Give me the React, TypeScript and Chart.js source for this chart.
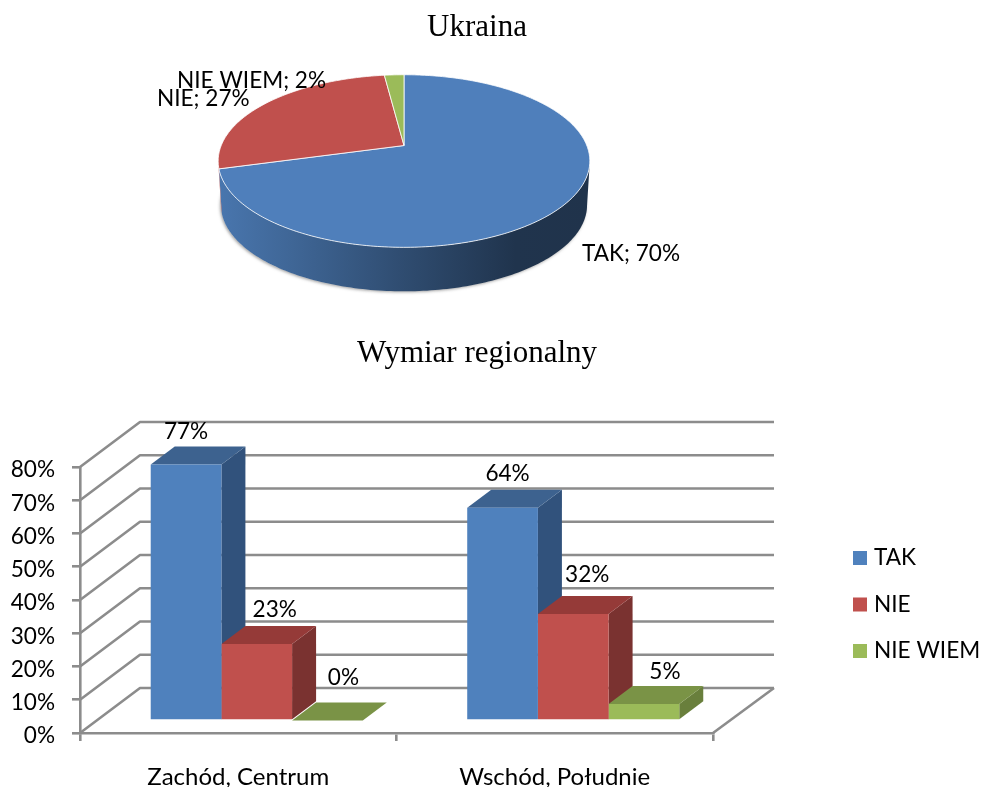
import React, { useEffect, useRef } from "react";
import { Chart, registerables } from "chart.js";

Chart.register(...registerables);

const FONT = "Lato, 'Open Sans', sans-serif";
const TEXT = "#000000";
const GRID = "#8c8c8c";

// Pie data
const pieLabels = ["TAK", "NIE", "NIE WIEM"];
const pieValues = [70, 27, 2];
const pieColors = ["#4f7fbb", "#c0504d", "#9bbb59"];

// Bar data
const barCategories = ["Zachód, Centrum", "Wschód, Południe"];
const takValues = [77, 64];
const nieValues = [23, 32];
const nieWiemValues = [0, 5];
const seriesFront = ["#4f81bd", "#c0504d", "#9bbb59"];
const seriesTop = ["#3d628f", "#953a38", "#7a9346"];
const seriesSide = ["#31527c", "#7a3230", "#697f3c"];
const yTickMax = 80;
const yTickStep = 10;

// Placement of the hand-positioned labels (left x / centre y on the pie canvas)
const pieLabelPlacement = [
  { x: 582, y: 254 },
  { x: 157, y: 99 },
  { x: 177, y: 81 },
];
// Offset of the value labels from the bar's front-top centre, per series then per category
const barLabelNudge = [
  [{ x: 0, y: -33 }, { x: 5, y: -34 }],
  [{ x: 18, y: -34 }, { x: 14, y: -39 }],
  [{ x: 16, y: -43 }, { x: 21, y: -32 }],
];

// Pie projection
const APEX = { x: 404, y: 145.5 };
const PERSP = 0.18;
const PROJ_R = 182.8;
const PROJ_B = 83.5;
const WALL = 44;
const WALL_SHRINK = 0.985;
const ELLIPSE_MID_Y = 161;

function rim(theta: number) {
  const u = Math.sin(theta);
  const v = Math.cos(theta);
  const w = 1 + PERSP * v;
  return { x: APEX.x + (PROJ_R * u) / w, y: APEX.y - (PROJ_B * v) / w };
}

function shade(hex: string, f: number) {
  const n = parseInt(hex.slice(1), 16);
  const r = Math.round(((n >> 16) & 255) * f);
  const g = Math.round(((n >> 8) & 255) * f);
  const b = Math.round((n & 255) * f);
  return `rgb(${r},${g},${b})`;
}

const pie3d = {
  id: "pie3d",
  beforeDatasetsDraw(chart: any) {
    const ctx = chart.ctx as CanvasRenderingContext2D;
    const meta = chart.getDatasetMeta(0);
    const arcs = meta.data;
    const toTheta = (a: number) => a + Math.PI / 2;
    const wallPt = (p: { x: number; y: number }) => ({
      x: APEX.x + (p.x - APEX.x) * WALL_SHRINK,
      y: p.y + WALL,
    });

    // soft outline under the wall
    ctx.save();
    ctx.beginPath();
    for (let i = 0; i <= 180; i++) {
      const p = wallPt(rim((i / 180) * Math.PI * 2));
      if (i === 0) ctx.moveTo(p.x, p.y);
      else ctx.lineTo(p.x, p.y);
    }
    ctx.closePath();
    ctx.shadowColor = "rgba(90,90,90,0.55)";
    ctx.shadowBlur = 3;
    ctx.shadowOffsetX = -1;
    ctx.shadowOffsetY = 1;
    ctx.fillStyle = "#d8d8d8";
    ctx.fill();
    ctx.restore();

    // walls, one per slice
    arcs.forEach((arc: any, i: number) => {
      const t0 = toTheta(arc.startAngle);
      const t1 = toTheta(arc.endAngle);
      const top: { x: number; y: number }[] = [];
      const N = 240;
      for (let k = 0; k <= N; k++) {
        const p = rim(t0 + ((t1 - t0) * k) / N);
        if (p.y >= ELLIPSE_MID_Y) top.push(p);
      }
      if (top.length < 2) return;
      const g = ctx.createLinearGradient(218, 0, 590, 0);
      const base = pieColors[i];
      g.addColorStop(0, shade(base, 0.93));
      g.addColorStop(0.2, shade(base, 0.8));
      g.addColorStop(0.5, shade(base, 0.6));
      g.addColorStop(0.8, shade(base, 0.41));
      g.addColorStop(1, shade(base, 0.4));
      ctx.beginPath();
      top.forEach((p, k) => (k === 0 ? ctx.moveTo(p.x, p.y) : ctx.lineTo(p.x, p.y)));
      for (let k = top.length - 1; k >= 0; k--) {
        const p = wallPt(top[k]);
        ctx.lineTo(p.x, p.y);
      }
      ctx.closePath();
      ctx.fillStyle = g;
      ctx.fill();
    });

    // top faces
    arcs.forEach((arc: any, i: number) => {
      const t0 = toTheta(arc.startAngle);
      const t1 = toTheta(arc.endAngle);
      ctx.beginPath();
      ctx.moveTo(APEX.x, APEX.y);
      const N = Math.max(4, Math.ceil((t1 - t0) * 60));
      for (let k = 0; k <= N; k++) {
        const p = rim(t0 + ((t1 - t0) * k) / N);
        ctx.lineTo(p.x, p.y);
      }
      ctx.closePath();
      ctx.fillStyle = pieColors[i];
      ctx.fill();
      ctx.strokeStyle = "rgba(255,255,255,0.8)";
      ctx.lineWidth = 1;
      ctx.stroke();
    });

    // labels
    ctx.save();
    ctx.font = `22.6px ${FONT}`;
    ctx.fillStyle = TEXT;
    ctx.textAlign = "left";
    ctx.textBaseline = "middle";
    chart.data.labels.forEach((label: string, i: number) => {
      const value = chart.data.datasets[0].data[i];
      const place = pieLabelPlacement[i];
      ctx.fillText(`${label}; ${value}%`, place.x, place.y);
    });
    ctx.restore();
    return false;
  },
};

// 3D offsets
const WALL_DX = 60;
const WALL_DY = 45;
const BAR_SHIFT_X = 18.5;
const BAR_SHIFT_Y = -12.5;
const BAR_DEPTH_X = 24;
const BAR_DEPTH_Y = 18;

const bar3d = {
  id: "bar3d",
  beforeDatasetsDraw(chart: any) {
    const ctx = chart.ctx as CanvasRenderingContext2D;
    const { left, right } = chart.chartArea;
    const yScale = chart.scales.y;

    // gridlines on the side and back walls
    ctx.save();
    ctx.strokeStyle = GRID;
    ctx.lineWidth = 2.6;
    ctx.lineJoin = "round";
    yScale.ticks.forEach((tick: any) => {
      const y = yScale.getPixelForValue(tick.value);
      ctx.beginPath();
      ctx.moveTo(left, y);
      ctx.lineTo(left + WALL_DX, y - WALL_DY);
      ctx.lineTo(right + WALL_DX + 1, y - WALL_DY);
      ctx.stroke();
    });
    const y0 = yScale.getPixelForValue(0);
    ctx.beginPath();
    ctx.moveTo(right, y0);
    ctx.lineTo(right + WALL_DX + 1, y0 - WALL_DY);
    ctx.stroke();
    ctx.restore();

    ctx.save();
    ctx.translate(BAR_SHIFT_X, BAR_SHIFT_Y);
    // categories left to right, series left to right
    chart.data.labels.forEach((_: string, c: number) => {
      chart.data.datasets.forEach((_d: any, s: number) => {
        const bar = chart.getDatasetMeta(s).data[c];
        const x0 = bar.x - bar.width / 2;
        const x1 = bar.x + bar.width / 2;
        const yt = bar.y;
        const yb = bar.base;
        ctx.fillStyle = seriesSide[s];
        ctx.beginPath();
        ctx.moveTo(x1, yt);
        ctx.lineTo(x1 + BAR_DEPTH_X, yt - BAR_DEPTH_Y);
        ctx.lineTo(x1 + BAR_DEPTH_X, yb - BAR_DEPTH_Y);
        ctx.lineTo(x1, yb);
        ctx.closePath();
        ctx.fill();
        ctx.fillStyle = seriesTop[s];
        ctx.beginPath();
        ctx.moveTo(x0, yt);
        ctx.lineTo(x0 + BAR_DEPTH_X, yt - BAR_DEPTH_Y);
        ctx.lineTo(x1 + BAR_DEPTH_X, yt - BAR_DEPTH_Y);
        ctx.lineTo(x1, yt);
        ctx.closePath();
        ctx.fill();
      });
    });
    return undefined;
  },
  afterDatasetsDraw(chart: any) {
    const ctx = chart.ctx as CanvasRenderingContext2D;
    ctx.restore();

    // value labels
    ctx.save();
    ctx.font = `22.6px ${FONT}`;
    ctx.fillStyle = TEXT;
    ctx.textAlign = "center";
    ctx.textBaseline = "middle";
    chart.data.datasets.forEach((ds: any, s: number) => {
      chart.getDatasetMeta(s).data.forEach((bar: any, c: number) => {
        const n = barLabelNudge[s][c];
        ctx.fillText(
          `${ds.data[c]}%`,
          bar.x + BAR_SHIFT_X + n.x,
          bar.y + BAR_SHIFT_Y + n.y
        );
      });
    });
    ctx.restore();

    // legend
    ctx.save();
    ctx.font = `22.6px ${FONT}`;
    ctx.textAlign = "left";
    ctx.textBaseline = "middle";
    chart.data.datasets.forEach((ds: any, s: number) => {
      const y = 228 + s * 46.5;
      ctx.fillStyle = seriesFront[s];
      ctx.fillRect(853, y - 7, 14, 14);
      ctx.fillStyle = TEXT;
      ctx.fillText(ds.label, 874, y);
    });
    ctx.restore();
  },
};

export default function App() {
  const pieRef = useRef<HTMLCanvasElement | null>(null);
  const barRef = useRef<HTMLCanvasElement | null>(null);

  useEffect(() => {
    const pie = new Chart(pieRef.current as HTMLCanvasElement, {
      type: "pie",
      data: {
        labels: pieLabels,
        datasets: [{ data: pieValues, backgroundColor: pieColors }],
      },
      options: {
        responsive: false,
        animation: false,
        plugins: { legend: { display: false }, tooltip: { enabled: false } },
      },
      plugins: [pie3d],
    } as any);

    const bar = new Chart(barRef.current as HTMLCanvasElement, {
      type: "bar",
      data: {
        labels: barCategories,
        datasets: [
          { label: pieLabels[0], data: takValues, backgroundColor: seriesFront[0] },
          { label: pieLabels[1], data: nieValues, backgroundColor: seriesFront[1] },
          { label: pieLabels[2], data: nieWiemValues, backgroundColor: seriesFront[2] },
        ].map((d) => ({ ...d, clip: false, categoryPercentage: 0.67, barPercentage: 1, borderWidth: 0 })),
      },
      options: {
        responsive: false,
        animation: false,
        layout: { padding: { top: 137, right: 268, left: 0, bottom: 0 } },
        plugins: { legend: { display: false }, tooltip: { enabled: false } },
        scales: {
          x: {
            afterFit(scale: any) {
              scale.height = 54;
            },
            border: { color: GRID, width: 2.6 },
            grid: { drawOnChartArea: false, color: GRID, lineWidth: 2.6, tickLength: 8 },
            ticks: { color: TEXT, font: { family: FONT, size: 24 }, padding: 22, maxRotation: 0 },
          },
          y: {
            min: 0,
            max: yTickMax,
            afterFit(scale: any) {
              scale.width = 80;
            },
            border: { color: GRID, width: 2.6 },
            grid: { drawOnChartArea: false, color: GRID, lineWidth: 2.6, tickLength: 8 },
            ticks: {
              stepSize: yTickStep,
              color: TEXT,
              font: { family: FONT, size: 22.6 },
              padding: 17,
              labelOffset: 3,
              callback: (v: any) => `${v}%`,
            },
          },
        },
      },
      plugins: [bar3d],
    } as any);

    return () => {
      pie.destroy();
      bar.destroy();
    };
  }, []);

  const titleStyle: React.CSSProperties = {
    position: "absolute",
    left: 0,
    width: 954,
    textAlign: "center",
    font: "31px 'Liberation Serif', serif",
    color: "#000",
    lineHeight: "36px",
  };

  return (
    <div style={{ position: "fixed", left: 0, top: 0, width: 981, height: 787, background: "#fff", overflow: "hidden" }}>
      <canvas ref={pieRef} width={981} height={320} style={{ position: "absolute", left: 0, top: 0, display: "block" }} />
      <canvas ref={barRef} width={981} height={457} style={{ position: "absolute", left: 0, top: 330, display: "block" }} />
      <div style={{ ...titleStyle, top: 8 }}>Ukraina</div>
      <div style={{ ...titleStyle, top: 334 }}>Wymiar regionalny</div>
    </div>
  );
}
